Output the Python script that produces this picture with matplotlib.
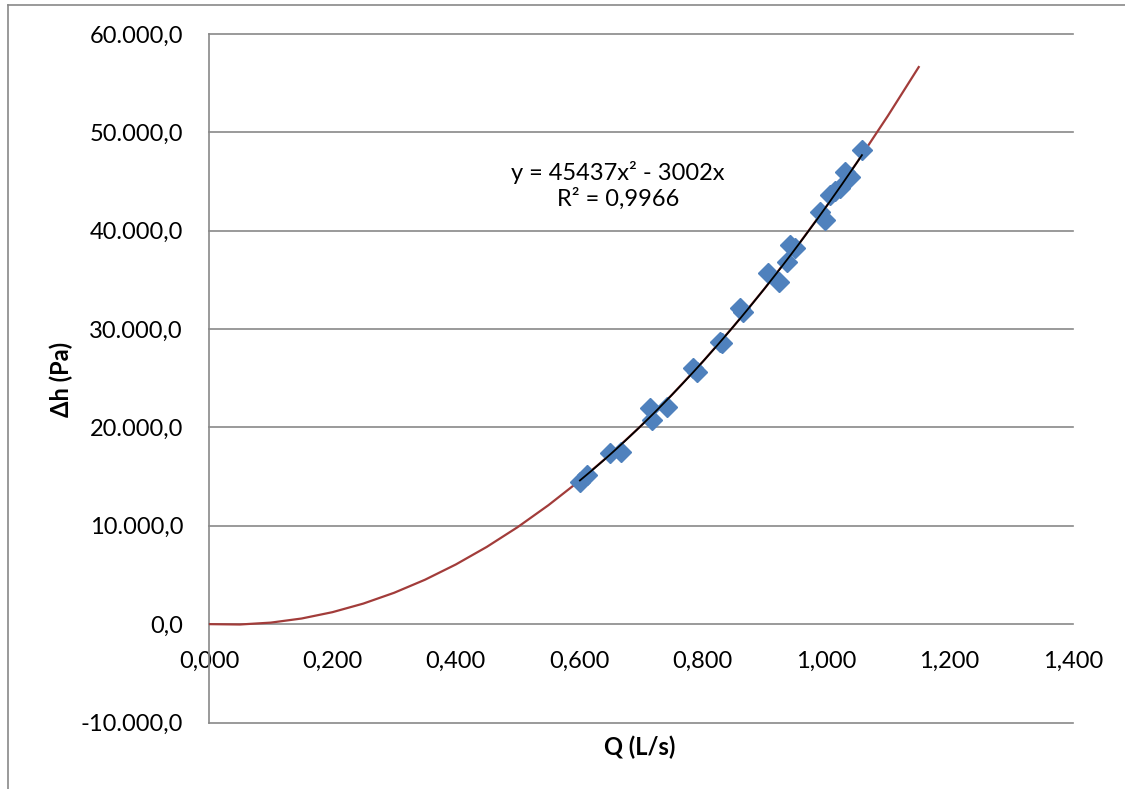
import matplotlib
matplotlib.use('Agg')
import matplotlib.pyplot as plt
import numpy as np
from matplotlib.lines import Line2D
from matplotlib.ticker import FuncFormatter

# Measured data points: Q (L/s) and Δh (Pa)
q_data = [0.601, 0.612, 0.650, 0.667, 0.715, 0.7175, 0.742, 0.785, 0.790, 0.828,
          0.831, 0.861, 0.865, 0.906, 0.923, 0.936, 0.942, 0.950, 0.990, 0.998,
          1.006, 1.015, 1.023, 1.031, 1.039, 1.058]
dh_data = [14470, 15150, 17390, 17520, 21970, 20750, 22100, 26030, 25660, 28710,
           28580, 32140, 31730, 35670, 34810, 36850, 38540, 38210, 41930, 41090,
           43630, 44000, 44340, 46000, 45490, 48210]

# Trendline coefficients (y = a x^2 + b x)
fit_a = 45437
fit_b = -3002
eq_text = "y = 45437x² - 3002x\nR² = 0,9966"

# Second series (red curve)
curve_q = [0.00, 0.05, 0.10, 0.15, 0.20, 0.25, 0.30, 0.35, 0.40, 0.45, 0.50, 0.55,
           0.60, 0.65, 0.70, 0.75, 0.80, 0.85, 0.90, 0.95, 1.00, 1.05, 1.10, 1.15]
curve_dh = [0.0, -36.5, 154.2, 572.0, 1217.1, 2089.3, 3188.7, 4515.3, 6069.1, 7850.1,
            9858.3, 12093.6, 14556.1, 17245.8, 20162.7, 23306.8, 26678.1, 30276.5,
            34102.2, 38155.0, 42435.0, 46942.2, 51676.6, 56638.1]

x_ticks = [0.0, 0.2, 0.4, 0.6, 0.8, 1.0, 1.2, 1.4]
y_ticks = [-10000, 0, 10000, 20000, 30000, 40000, 50000, 60000]

FAM = ['Lato', 'DejaVu Sans']
plt.rcParams['font.family'] = FAM
FS = 17
GRAY = '#898989'
BLUE = '#4F81BD'
RED = '#A23C3A'

W, H = 1125, 789
fig = plt.figure(figsize=(W / 100, H / 100), dpi=100)
ax = fig.add_axes([209 / W, 1 - 722.5 / H, (1073 - 209) / W, (722.5 - 34) / H])

ax.plot(curve_q, curve_dh, color=RED, lw=1.6, zorder=3)
ax.plot(q_data, dh_data, ls='none', marker='D', ms=10.5, mfc=BLUE, mec=BLUE, zorder=4)
tq = np.linspace(min(q_data), max(q_data), 200)
ax.plot(tq, fit_a * tq ** 2 + fit_b * tq, color='black', lw=1.3, zorder=5)

ax.set_xlim(0, 1.4)
ax.set_ylim(-10000, 60000)
ax.set_xticks(x_ticks)
ax.set_yticks(y_ticks)
ax.yaxis.grid(True, color=GRAY, lw=1.2)
ax.xaxis.grid(False)
ax.set_axisbelow(True)
for ln in ax.get_ygridlines():
    ln.set_clip_on(False)

for s in ['top', 'right']:
    ax.spines[s].set_visible(False)
ax.spines['bottom'].set_position(('data', 0))
ax.spines['bottom'].set_visible(False)
ax.spines['left'].set_color(GRAY)
ax.spines['left'].set_linewidth(1.2)

def yfmt(v, pos):
    s = f"{v:,.1f}"
    return s.replace(',', 'X').replace('.', ',').replace('X', '.')

def xfmt(v, pos):
    return f"{v:.3f}".replace('.', ',')

ax.yaxis.set_major_formatter(FuncFormatter(yfmt))
ax.xaxis.set_major_formatter(FuncFormatter(xfmt))
ax.tick_params(axis='y', length=0, pad=18.7, labelsize=FS)
ax.tick_params(axis='x', length=0, pad=19, labelsize=FS)

fig.text(618 / W, 1 - 185 / H, eq_text, ha='center', va='center',
         multialignment='center', fontsize=FS, linespacing=1.2)
fig.text(640 / W, 1 - 747 / H, 'Q (L/s)', ha='center', va='center',
         fontsize=FS, fontweight='bold')
fig.text(61 / W, 1 - 379 / H, 'Δh (Pa)', ha='center', va='center',
         rotation=90, fontsize=FS, fontweight='bold')

# outer chart frame
fig.add_artist(Line2D([7.5 / W, 7.5 / W], [0, 1 - 5 / H], color=GRAY, lw=1.2))
fig.add_artist(Line2D([7.5 / W, 1], [1 - 5 / H, 1 - 5 / H], color=GRAY, lw=1.2))

fig.savefig('out.png', dpi=100)
